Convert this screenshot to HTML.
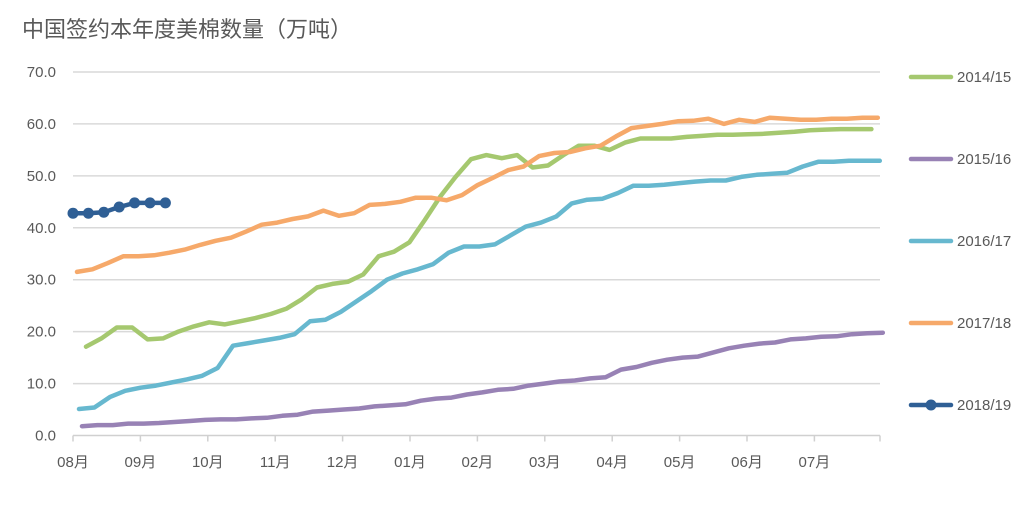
<!DOCTYPE html>
<html><head><meta charset="utf-8"><style>
body{margin:0;background:#fff;}
svg text{font-family:"Liberation Sans","Noto Sans CJK SC",sans-serif;fill:#595959;}
</style></head><body>
<svg width="1027" height="500" viewBox="0 0 1027 500">
<text x="22" y="37" font-size="22">中国签约本年度美棉数量（万吨）</text>
<g id="grid"></g>
<g id="axes"></g>
<g id="series"></g>
<g id="legend"></g>
</svg>
<script>
const yTicks=[0,10,20,30,40,50,60,70];
const months=["08月","09月","10月","11月","12月","01月","02月","03月","04月","05月","06月","07月"];
const names=["2014/15","2015/16","2016/17","2017/18","2018/19"];
const s1415=[17.1,18.7,20.8,20.8,18.5,18.7,20,21,21.8,21.4,22,22.6,23.4,24.4,26.2,28.5,29.2,29.6,31,34.5,35.4,37.2,41.5,46,49.8,53.2,54,53.4,54,51.6,52,54,55.8,55.8,55,56.4,57.2,57.2,57.2,57.5,57.7,57.9,57.9,58,58.1,58.3,58.5,58.8,58.9,59,59,59];
const s1516=[1.8,2,2,2.3,2.3,2.4,2.6,2.8,3,3.1,3.1,3.3,3.4,3.8,4,4.6,4.8,5,5.2,5.6,5.8,6,6.7,7.1,7.3,7.9,8.3,8.8,9,9.6,10,10.4,10.6,11,11.2,12.7,13.2,14,14.6,15,15.2,16,16.8,17.3,17.7,17.9,18.5,18.7,19,19.1,19.5,19.7,19.8];
const s1617=[5.1,5.4,7.4,8.6,9.2,9.6,10.2,10.8,11.5,13,17.3,17.8,18.3,18.8,19.5,22,22.3,23.8,25.8,27.8,30,31.2,32,33,35.2,36.4,36.4,36.8,38.5,40.2,41,42.2,44.7,45.4,45.6,46.7,48.1,48.1,48.3,48.6,48.9,49.1,49.1,49.8,50.2,50.4,50.6,51.8,52.7,52.7,52.9,52.9,52.9];
const s1718=[31.5,32,33.2,34.5,34.5,34.7,35.2,35.8,36.7,37.5,38.1,39.3,40.6,41,41.7,42.2,43.3,42.3,42.8,44.4,44.6,45,45.8,45.8,45.3,46.3,48.2,49.6,51.1,51.8,53.8,54.4,54.6,55.3,55.8,57.6,59.2,59.6,60,60.5,60.6,61,60,60.8,60.4,61.2,61,60.8,60.8,61,61,61.2,61.2];
const s1819=[42.8,42.8,43,44,44.8,44.8,44.8];

const NS="http://www.w3.org/2000/svg";
const X0=73,X1=880,Y0=435.5,Y70=72;
const y=v=>Y0-(v/70)*(Y0-Y70);
const monthX=i=>X0+i*67.4;
const weekX=(start,i)=>start+i*15.4;
function mk(tag,attrs,parent){const e=document.createElementNS(NS,tag);for(const k in attrs)e.setAttribute(k,attrs[k]);parent.appendChild(e);return e;}
const grid=document.getElementById('grid'),axes=document.getElementById('axes'),ser=document.getElementById('series'),leg=document.getElementById('legend');
yTicks.forEach(t=>{
  if(t>0){const l=mk('line',{x1:X0,x2:X1,y1:y(t),y2:y(t),stroke:'#d9d9d9','stroke-width':1.5},grid);
  
  }
  const tx=mk('text',{x:56,y:y(t)+5,'font-size':15,'text-anchor':'end'},axes);tx.textContent=t.toFixed(1);
  
  
});
const ax=mk('line',{x1:X0,x2:X1,y1:Y0,y2:Y0,stroke:'#d0d0d0','stroke-width':1.5},axes);


months.forEach((m,i)=>{
  const x=monthX(i);
  const tk=mk('line',{x1:x,x2:x,y1:Y0,y2:Y0+6,stroke:'#d0d0d0','stroke-width':1.5},axes);
  
  
  const tx=mk('text',{x:x,y:467,'font-size':15,'text-anchor':'middle'},axes);tx.textContent=m;
  
  
});
const endTick=mk('line',{x1:X1,x2:X1,y1:Y0,y2:Y0+6,stroke:'#d0d0d0','stroke-width':1.5},axes);



const cfg=[[s1415,86,'#a5c86f'],[s1516,82,'#9882b5'],[s1617,79,'#67b8cf'],[s1718,77,'#f6a96a'],[s1819,73,'#2f5f95']];
cfg.forEach(([d,start,c],k)=>{
  const pts=d.map((v,i)=>weekX(start,i).toFixed(1)+','+y(v).toFixed(1)).join(' ');
  const pl=mk('polyline',{points:pts,fill:'none',stroke:c,'stroke-width':4.5,'stroke-linejoin':'round','stroke-linecap':'round'},ser);
  
  
  if(k===4){d.forEach((v,i)=>{const ci=mk('circle',{cx:weekX(start,i),cy:y(v),r:5.5,fill:c},ser);
    
    });}
  const ly=77+k*82;
  const g=mk('g',{},leg);
  
  
  mk('line',{x1:911,x2:951,y1:ly,y2:ly,stroke:c,'stroke-width':4.5,'stroke-linecap':'round'},g);
  if(k===4)mk('circle',{cx:931,cy:ly,r:5.5,fill:c},g);
  const t=mk('text',{x:957,y:ly+5,'font-size':15},g);t.textContent=names[k];
});
</script>
</body></html>
